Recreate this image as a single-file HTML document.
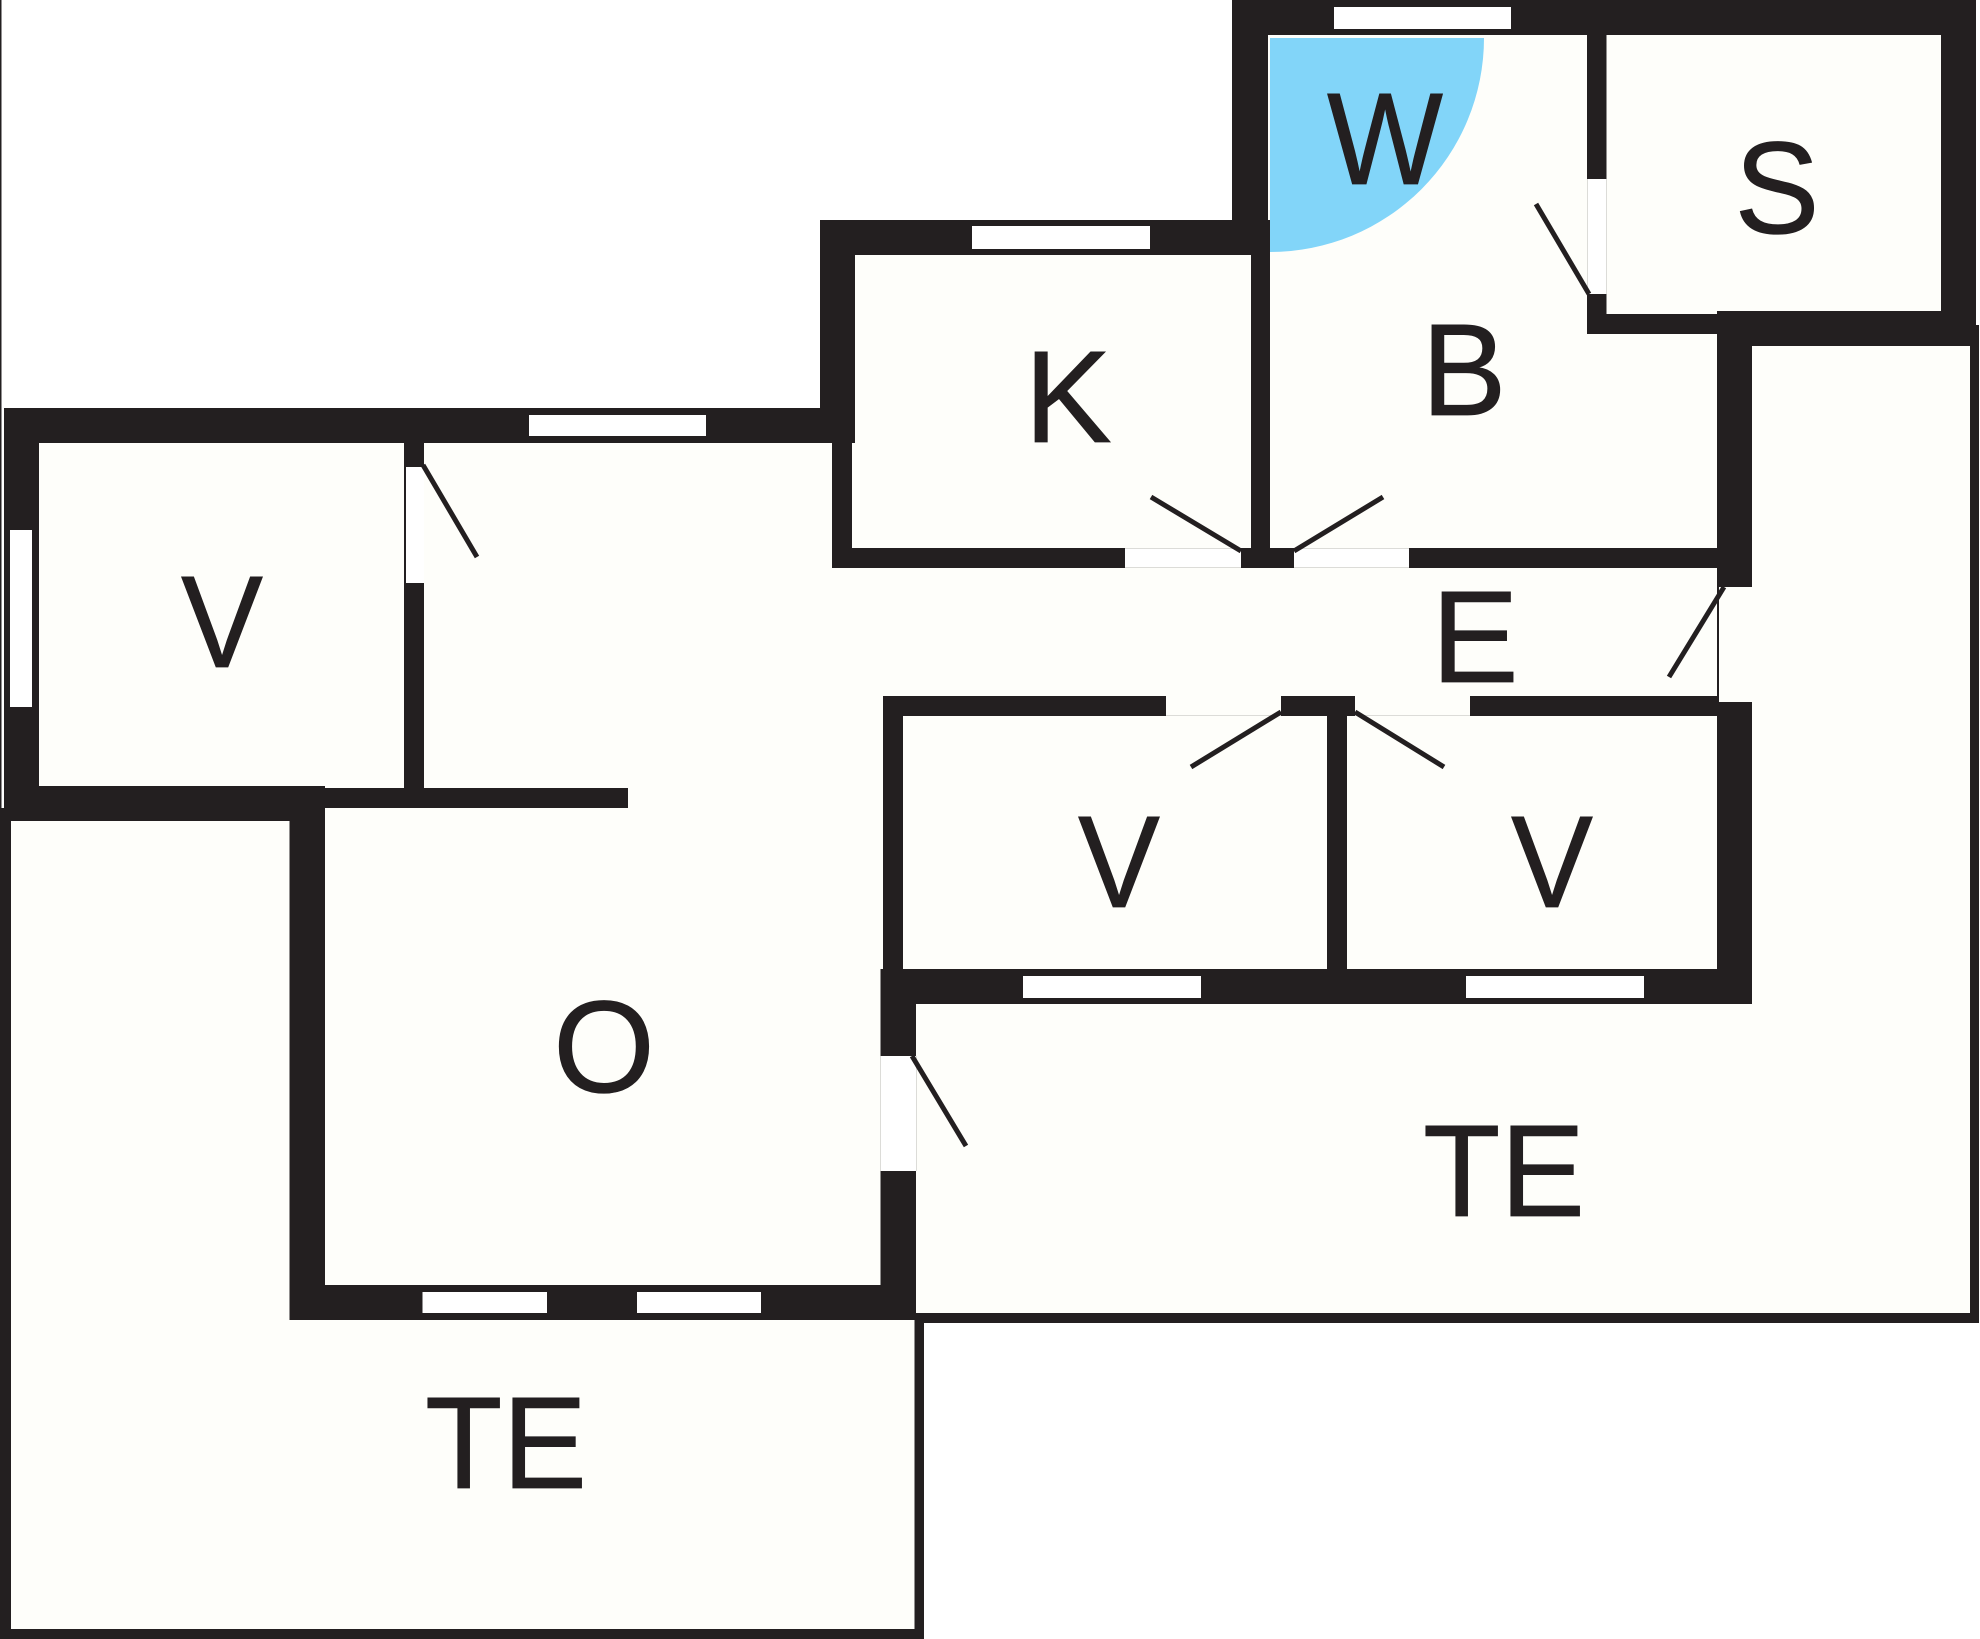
<!DOCTYPE html>
<html>
<head>
<meta charset="utf-8">
<style>
html,body{margin:0;padding:0;background:#fff;width:1980px;height:1639px;overflow:hidden}
svg{display:block}
text{font-family:"Liberation Sans",sans-serif;font-size:131px;fill:#231f20;stroke:#231f20;stroke-width:.8;text-anchor:middle}
</style>
</head>
<body>
<svg width="1980" height="1639" viewBox="0 0 1980 1639" xmlns="http://www.w3.org/2000/svg">
<rect width="1980" height="1639" fill="#fff"/>
<polygon fill="#fefefa" points="4,408 820,408 820,220 1232,220 1232,0 1976,0 1976,325 1979,325 1979,1323 924,1323 924,1639 0,1639 0,808 4,808"/>
<path d="M1270,38 H1484 A214,214 0 0 1 1270,252 Z" fill="#82d5f9"/>
<g fill="#fff">
<rect x="1587" y="179" width="19" height="115"/>
<rect x="880" y="1056" width="36" height="115"/>
<rect x="1125" y="548" width="116" height="20"/>
<rect x="1294" y="548" width="115" height="20"/>
<rect x="406" y="467" width="18" height="116"/>
</g>
<g fill="#dcdcd8">
<rect x="1125" y="548" width="116" height="1"/>
<rect x="1125" y="567" width="116" height="1"/>
<rect x="1294" y="548" width="115" height="1"/>
<rect x="1294" y="567" width="115" height="1"/>
<rect x="1166" y="715" width="115" height="1"/>
<rect x="1355" y="715" width="115" height="1"/>
<rect x="1587" y="179" width="1" height="115"/>
<rect x="1606" y="179" width="1" height="115"/>
<rect x="880" y="1056" width="1" height="115"/>
<rect x="916" y="1056" width="1" height="115"/>
</g>
<g fill="#231f20">
<rect x="1232" y="0" width="744" height="35"/>
<rect x="1232" y="0" width="36" height="222"/>
<rect x="820" y="220" width="450" height="35"/>
<rect x="820" y="220" width="35" height="223"/>
<rect x="1251" y="220" width="19" height="328"/>
<rect x="4" y="408" width="851" height="35"/>
<rect x="832" y="443" width="20" height="125"/>
<rect x="832" y="548" width="293" height="20"/>
<rect x="1241" y="548" width="53" height="20"/>
<rect x="1409" y="548" width="308" height="20"/>
<rect x="1717" y="311" width="35" height="276"/>
<rect x="1587" y="35" width="19.500" height="144"/>
<rect x="1587" y="294" width="19.500" height="40"/>
<rect x="1587" y="314" width="130" height="20"/>
<rect x="1717" y="311" width="259" height="35"/>
<rect x="1941" y="0" width="35" height="346"/>
<rect x="1970" y="325" width="9" height="998"/>
<rect x="1717" y="587" width="2" height="115"/>
<rect x="883" y="696" width="283" height="20"/>
<rect x="1281" y="696" width="74" height="20"/>
<rect x="1470" y="696" width="247" height="20"/>
<rect x="883" y="696" width="20" height="308"/>
<rect x="1327" y="716" width="20" height="253"/>
<rect x="1717" y="702" width="35" height="302"/>
<rect x="880.500" y="969" width="871.500" height="35"/>
<rect x="880.500" y="969" width="35.500" height="87"/>
<rect x="880.500" y="1171" width="35.500" height="149"/>
<rect x="289.500" y="1285" width="626.500" height="35"/>
<rect x="289.500" y="786" width="35.500" height="534"/>
<rect x="4" y="408" width="35" height="413"/>
<rect x="4" y="786" width="320.500" height="22"/>
<rect x="324" y="788" width="304" height="20"/>
<rect x="0" y="808" width="325" height="13"/>
<rect x="404" y="443" width="20" height="24"/>
<rect x="404" y="583" width="20" height="205"/>
<rect x="404" y="467" width="2" height="116"/>
<rect x="0" y="808" width="11" height="831"/>
<rect x="0" y="1629" width="924" height="10"/>
<rect x="914.500" y="1320" width="9.500" height="319"/>
<rect x="916" y="1313" width="1063" height="10"/>
<rect x="0" y="0" width="1.500" height="808"/>
</g>
<g fill="#fff">
<rect x="1334" y="7" width="177" height="22"/>
<rect x="972" y="226" width="178" height="23"/>
<rect x="529" y="415" width="177" height="21"/>
<rect x="10" y="530" width="22" height="177"/>
<rect x="1023" y="976" width="178" height="22"/>
<rect x="1466" y="976" width="178" height="22"/>
<rect x="422.500" y="1292" width="124.500" height="21"/>
<rect x="637" y="1292" width="124" height="21"/>
</g>
<g stroke="#231f20" stroke-width="5" fill="none">
<line x1="1536" y1="204" x2="1589" y2="294"/>
<line x1="1151" y1="497" x2="1241" y2="551"/>
<line x1="1383" y1="497" x2="1294" y2="551"/>
<line x1="423" y1="465" x2="477" y2="557"/>
<line x1="1724" y1="587" x2="1669" y2="677"/>
<line x1="1281" y1="712" x2="1191" y2="767"/>
<line x1="1355" y1="712" x2="1444" y2="767"/>
<line x1="912" y1="1056" x2="966" y2="1146"/>
</g>
<text x="1385" y="184" textLength="116" lengthAdjust="spacingAndGlyphs">W</text>
<text x="1777" y="233" textLength="85" lengthAdjust="spacingAndGlyphs">S</text>
<text x="1464" y="415" textLength="85" lengthAdjust="spacingAndGlyphs">B</text>
<text x="1068" y="442">K</text>
<text x="222" y="667" textLength="82" lengthAdjust="spacingAndGlyphs">V</text>
<text x="1475" y="682">E</text>
<text x="1119" y="907" textLength="82" lengthAdjust="spacingAndGlyphs">V</text>
<text x="1552" y="907" textLength="82" lengthAdjust="spacingAndGlyphs">V</text>
<text x="604" y="1092">O</text>
<text x="1504" y="1216" textLength="162" lengthAdjust="spacingAndGlyphs">TE</text>
<text x="506" y="1488" textLength="162" lengthAdjust="spacingAndGlyphs">TE</text>
</svg>
</body>
</html>
